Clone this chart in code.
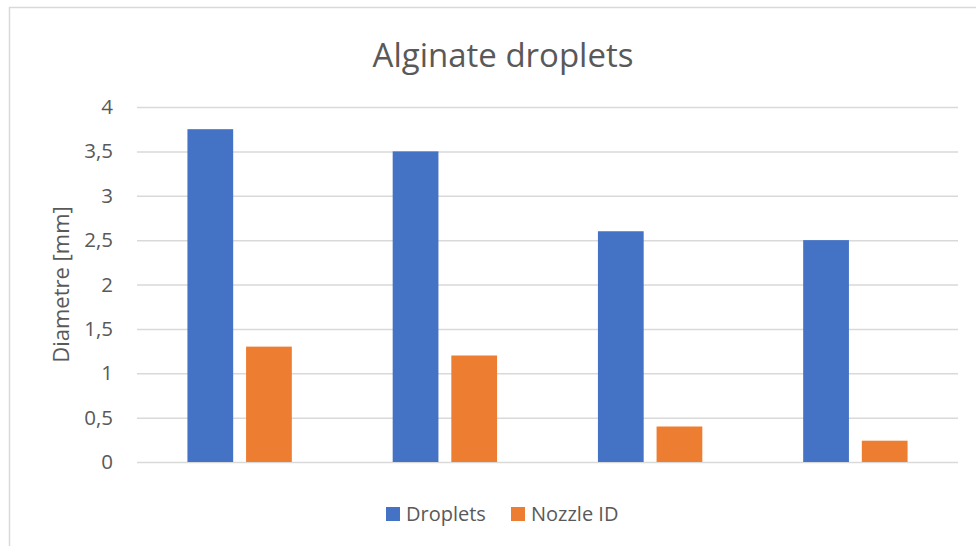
<!DOCTYPE html>
<html>
<head>
<meta charset="utf-8">
<script src="https://cdn.jsdelivr.net/npm/d3@7"></script>
<style>
  body { margin: 0; background: #fff; }
  text { font-family: "Open Sans", sans-serif; fill: #595959; }
</style>
</head>
<body>
<div id="chart"></div>
<script>
// data
const groups = ["A", "B", "C", "D"];
const seriesNames = ["Droplets", "Nozzle ID"];
const droplets = [3.75, 3.5, 2.6, 2.5];
const nozzleID = [1.3, 1.2, 0.4, 0.24];
const yTicks = [0, 0.5, 1, 1.5, 2, 2.5, 3, 3.5, 4];
const colors = ["#4472C4", "#ED7D31"];

const w = 976;
const h = 546;
const margin = { top: 107, right: 18, bottom: 84, left: 137 };

const rows = groups.map((g, i) => ({ g, vals: [droplets[i], nozzleID[i]] }));

const svg = d3
  .select("#chart")
  .append("svg")
  .attr("width", w)
  .attr("height", h);

// chart frame
svg
  .append("rect")
  .attr("x", 9.5)
  .attr("y", 7.5)
  .attr("width", w + 10)
  .attr("height", h + 10)
  .attr("fill", "#fff")
  .attr("stroke", "#d9d9d9")
  .attr("stroke-width", 1.5);

const xScale = d3
  .scaleBand()
  .domain(groups)
  .range([margin.left, w - margin.right]);

const x1 = d3
  .scaleBand()
  .domain(seriesNames)
  .range([0, xScale.bandwidth()])
  .paddingInner(0.22)
  .paddingOuter(0.86);

const yScale = d3
  .scaleLinear()
  .domain([0, 4])
  .range([h - margin.bottom, margin.top]);

// gridlines + tick labels
const yAxis = d3
  .axisLeft(yScale)
  .tickValues(yTicks)
  .tickSize(-(w - margin.left - margin.right))
  .tickPadding(24)
  .tickFormat((d) => String(d).replace(".", ","));

const gy = svg
  .append("g")
  .attr("transform", `translate(${margin.left}, 0)`)
  .call(yAxis);
gy.select(".domain").remove();
gy.selectAll("line").attr("stroke", "#d9d9d9").attr("stroke-width", 1.5);
gy.selectAll("text")
  .style("font-size", "20.5px")
  .attr("fill", "#595959");

// bars
svg
  .append("g")
  .selectAll("g")
  .data(rows)
  .enter()
  .append("g")
  .attr("transform", (d) => `translate(${xScale(d.g)}, 0)`)
  .selectAll("rect")
  .data((d) => d.vals.map((v, i) => ({ name: seriesNames[i], v, i })))
  .enter()
  .append("rect")
  .attr("x", (d) => x1(d.name))
  .attr("y", (d) => yScale(d.v))
  .attr("width", x1.bandwidth())
  .attr("height", (d) => yScale(0) - yScale(d.v))
  .attr("fill", (d) => colors[d.i]);

// title
svg
  .append("text")
  .attr("x", 503)
  .attr("y", 67)
  .attr("text-anchor", "middle")
  .style("font-size", "33px")
  .text("Alginate droplets");

// y axis title
svg
  .append("text")
  .attr("transform", `translate(69, ${(margin.top + h - margin.bottom) / 2}) rotate(-90)`)
  .attr("text-anchor", "middle")
  .style("font-size", "22px")
  .text("Diametre [mm]");

// legend
const legendX = [386, 511];
const legend = svg
  .append("g")
  .selectAll("g")
  .data(seriesNames)
  .enter()
  .append("g")
  .attr("transform", (d, i) => `translate(${legendX[i]}, 507)`);

legend
  .append("rect")
  .attr("width", 14)
  .attr("height", 14)
  .attr("fill", (d, i) => colors[i]);

legend
  .append("text")
  .attr("x", 20)
  .attr("y", 14)
  .style("font-size", "20px")
  .text((d) => d);
</script>
</body>
</html>
